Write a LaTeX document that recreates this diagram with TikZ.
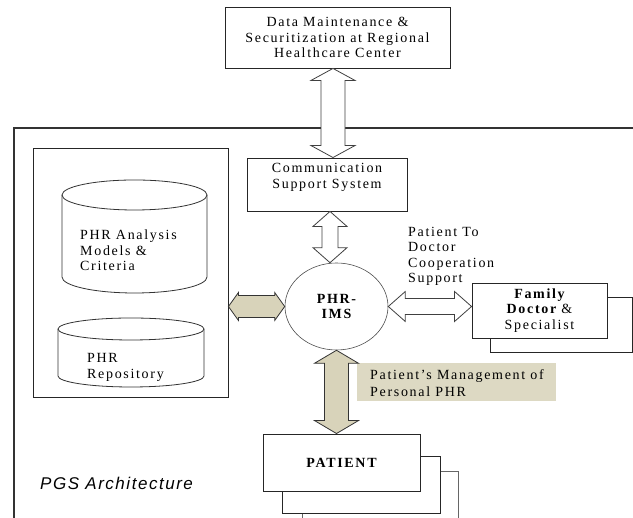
\documentclass[tikz,border=0pt]{standalone}
\usepackage{fontspec}
\setmainfont{Liberation Serif}[LetterSpace=12]
\newfontfamily\pgsfont{Liberation Sans}[LetterSpace=9]
\usetikzlibrary{calc,shapes.geometric}
\definecolor{tanbox}{HTML}{DDD9C3}
\definecolor{tanarrow}{HTML}{D8D3BA}
\newcommand{\VArrow}[6]{%
 \draw[#1] (#2) -- ($(#2)+(#5,-#6)$) -- ($(#2)+(#4,-#6)$) -- ($(#3)+(#4,#6)$) -- ($(#3)+(#5,#6)$) -- (#3) -- ($(#3)+(-#5,#6)$) -- ($(#3)+(-#4,#6)$) -- ($(#2)+(-#4,-#6)$) -- ($(#2)+(-#5,-#6)$) -- cycle;}
\newcommand{\HArrow}[6]{%
 \draw[#1] (#2) -- ($(#2)+(#6,#5)$) -- ($(#2)+(#6,#4)$) -- ($(#3)+(-#6,#4)$) -- ($(#3)+(-#6,#5)$) -- (#3) -- ($(#3)+(-#6,-#5)$) -- ($(#3)+(-#6,-#4)$) -- ($(#2)+(#6,-#4)$) -- ($(#2)+(#6,-#5)$) -- cycle;}
\tikzset{
 box/.style={draw=black!85, line width=0.9pt, fill=white, inner sep=0pt, align=center},
 txt/.style={inner sep=0pt, align=center},
 cyl/.style={draw=black!80, line width=0.8pt},
 hollow/.style={draw=black!75, line width=0.8pt, fill=white},
 solidarrow/.style={draw=black!80, line width=0.8pt, fill=tanarrow},
}
\begin{document}
\begin{tikzpicture}[x=1pt,y=1pt,font=\fontsize{14}{15.5}\selectfont]
\useasboundingbox (0,0) rectangle (633,518);
% outer frame
\draw[line width=1.2pt, black!80] (14,0) -- (14,390) -- (633,390);
% top box
\node[box, minimum width=225pt, minimum height=61pt] (top) at (337.5,480.5) {Data Maintenance \&\\ Securitization at Regional\\ Healthcare Center};
% communication
\node[box, minimum width=160pt, minimum height=53pt] (comm) at (327,333.5) {};
\node[txt] (commtxt) at (327,340.5) {Communication\\ Support System};
% left box with cylinders
\node[box, minimum width=195pt, minimum height=249pt] (left) at (130.5,245.5) {};
\draw[cyl] (62,323) -- (62,241) arc[start angle=180, end angle=360, x radius=72.5, y radius=16] -- (207,323);
\draw[cyl] (134.5,323) ellipse [x radius=72.5, y radius=15];
\node[anchor=north west, align=left, inner sep=0pt] (cyl1txt) at (80,288) {PHR Analysis\\ Models \&\\ Criteria};
\draw[cyl] (58,189) -- (58,142) arc[start angle=180, end angle=360, x radius=73, y radius=11] -- (204,189);
\draw[cyl] (131,189) ellipse [x radius=73, y radius=11];
\node[anchor=north west, align=left, inner sep=0pt, font=\fontsize{14}{16.5}\selectfont] (cyl2txt) at (87,165) {PHR\\ Repository};
% PHR-IMS
\node[ellipse, draw=black!70, line width=0.6pt, minimum width=103pt, minimum height=87pt, inner sep=0pt, align=center, font=\fontsize{14}{14.5}\selectfont\bfseries] (phr) at (336.5,211.5) {PHR-\\IMS};
% family doctor
\node[box, minimum width=142pt, minimum height=55pt] (famback) at (561,193.5) {};
\node[box, minimum width=135pt, minimum height=55pt] (fam) at (539.5,207.5) {{\bfseries Family}\\ {\bfseries Doctor} \&\\ Specialist};
\node[anchor=north west, align=left, inner sep=0pt] (coop) at (408,291) {Patient To\\ Doctor\\ Cooperation\\ Support};
% patient
\draw[line width=0.8pt, black!60] (302,0) -- (302,47) -- (458,47) -- (458,0);
\node[box, minimum width=158pt, minimum height=57pt] (patback) at (361,33.5) {};
\node[box, minimum width=157pt, minimum height=57pt, font=\fontsize{14}{15.5}\selectfont\bfseries] (patient) at (341.5,55.5) {PATIENT};
% label
\node[fill=tanbox, minimum width=199pt, minimum height=38pt, inner sep=0pt] (lbl) at (456.5,136) {};
\node[anchor=west, align=left, inner sep=0pt, font=\fontsize{14}{17}\selectfont] (lbltxt) at (370,135) {Patient's Management of\\ Personal PHR};
% caption
\node[anchor=west, inner sep=0pt, font={\pgsfont\itshape\fontsize{17}{20}\selectfont}] (pgs) at (40,35) {PGS Architecture};
% arrows
\coordinate (a1t) at (333,0 |- top.south);
\coordinate (a1b) at (333,0 |- comm.north);
\VArrow{hollow}{a1t}{a1b}{12}{22}{12}
\coordinate (a2t) at (330,0 |- comm.south);
\coordinate (a2b) at (330,0 |- phr.north);
\VArrow{hollow}{a2t}{a2b}{8}{17}{15}
\coordinate (a3l) at (phr.east);
\coordinate (a3r) at (fam.west |- phr.east);
\HArrow{hollow}{a3l}{a3r}{8}{15}{17}
\coordinate (a4l) at (left.east |- phr.west);
\coordinate (a4r) at (phr.west);
\HArrow{solidarrow}{a4l}{a4r}{11}{14}{10}
\coordinate (a5t) at (phr.south);
\coordinate (a5b) at (phr.south |- patient.north);
\VArrow{solidarrow}{a5t}{a5b}{12}{22}{13}
\end{tikzpicture}
\end{document}
